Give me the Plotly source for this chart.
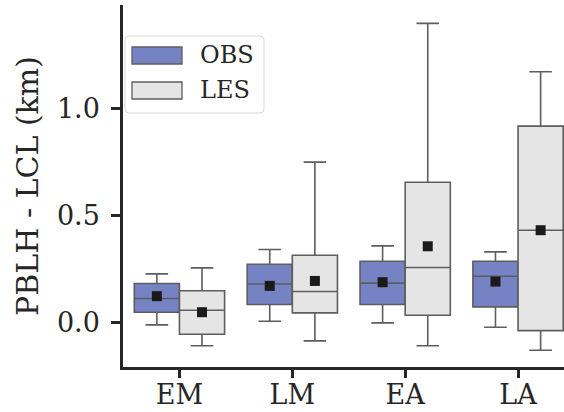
import plotly.graph_objects as go

categories = ["EM", "LM", "EA", "LA"]
series = ["OBS", "LES"]

# per-category statistics (km)
obs_q1 = [0.050, 0.086, 0.086, 0.075]
obs_median = [0.114, 0.182, 0.186, 0.218]
obs_q3 = [0.184, 0.274, 0.288, 0.288]
obs_low = [-0.009, 0.008, 0.000, -0.020]
obs_high = [0.229, 0.343, 0.360, 0.332]
obs_mean = [0.125, 0.173, 0.190, 0.193]

les_q1 = [-0.053, 0.047, 0.036, -0.036]
les_median = [0.059, 0.147, 0.259, 0.433]
les_q3 = [0.150, 0.316, 0.657, 0.919]
les_low = [-0.107, -0.084, -0.107, -0.128]
les_high = [0.257, 0.751, 1.399, 1.173]
les_mean = [0.050, 0.196, 0.358, 0.433]

y_ticks = [0.0, 0.5, 1.0]

FONT = "DejaVu Serif"
OBS_COLOR = "#7582c4"
LES_COLOR = "#e5e5e5"
EDGE = "#5e5e5e"
AXIS = "#262626"
BOX_W = 0.4
offsets = {"OBS": -0.2, "LES": 0.2}

fig = go.Figure()

stats = {
    "OBS": (obs_q1, obs_median, obs_q3, obs_low, obs_high, obs_mean, OBS_COLOR),
    "LES": (les_q1, les_median, les_q3, les_low, les_high, les_mean, LES_COLOR),
}

for name in series:
    q1, med, q3, lo, hi, mn, col = stats[name]
    xs = [i + offsets[name] for i in range(len(categories))]
    fig.add_trace(go.Box(
        x=xs, q1=q1, median=med, q3=q3, lowerfence=lo, upperfence=hi,
        name=name, width=BOX_W, whiskerwidth=0.5,
        fillcolor=col, line=dict(color=EDGE, width=1.6),
        boxpoints=False, showlegend=False, hoverinfo="skip",
    ))
    fig.add_trace(go.Scatter(
        x=xs, y=mn, mode="markers",
        marker=dict(symbol="square", size=10, color="#1a1a1a", line=dict(width=0)),
        showlegend=False, hoverinfo="skip",
    ))

# plot area geometry in pixels (for manual legend)
L, R, T, B = 123, 564, 5, 367
W, H = R - L, B - T

def px(x):
    return (x - L) / W

def py(y):
    return (B - y) / H

shapes = []
# legend frame with rounded corners
x0, x1, y0, y1, r = 125, 264, 36, 113, 4
path = (
    f"M {px(x0 + r)},{py(y0)} L {px(x1 - r)},{py(y0)} "
    f"Q {px(x1)},{py(y0)} {px(x1)},{py(y0 + r)} L {px(x1)},{py(y1 - r)} "
    f"Q {px(x1)},{py(y1)} {px(x1 - r)},{py(y1)} L {px(x0 + r)},{py(y1)} "
    f"Q {px(x0)},{py(y1)} {px(x0)},{py(y1 - r)} L {px(x0)},{py(y0 + r)} "
    f"Q {px(x0)},{py(y0)} {px(x0 + r)},{py(y0)} Z"
)
shapes.append(dict(type="path", path=path, xref="paper", yref="paper",
                   line=dict(color="#d9d9d9", width=1), fillcolor="rgba(255,255,255,0.8)"))
annotations = []
for k, name in enumerate(series):
    col = stats[name][6]
    top = 47 + k * 35
    shapes.append(dict(type="rect", xref="paper", yref="paper",
                       x0=px(132), x1=px(182), y0=py(top), y1=py(top + 17),
                       fillcolor=col, line=dict(color=EDGE, width=1.3)))
    annotations.append(dict(text=name, xref="paper", yref="paper",
                            x=px(198), y=py(top + 8.5), xanchor="left", yanchor="middle",
                            showarrow=False, font=dict(family=FONT, size=24, color="#262626")))

fig.update_layout(
    width=564, height=412,
    margin=dict(l=L, r=0, t=T, b=412 - B, autoexpand=False),
    plot_bgcolor="white", paper_bgcolor="white",
    font=dict(family=FONT, color=AXIS),
    shapes=shapes, annotations=annotations,
    showlegend=False,
    xaxis=dict(
        range=[-0.5, (R - 179) / 113.0], tickvals=list(range(len(categories))),
        ticktext=categories, showgrid=False, zeroline=False, automargin=False,
        showline=True, linecolor=AXIS, linewidth=2.5,
        ticks="outside", ticklen=8, tickwidth=2.5, tickcolor=AXIS,
        ticklabelstandoff=-6,
        tickfont=dict(family=FONT, size=27, color=AXIS),
    ),
    yaxis=dict(
        range=[-0.206, 1.485], tickvals=y_ticks, ticktext=[f"{v:.1f}" for v in y_ticks],
        showgrid=False, zeroline=False, automargin=False,
        showline=True, linecolor=AXIS, linewidth=2.5,
        ticks="outside", ticklen=9, tickwidth=2.5, tickcolor=AXIS,
        ticklabelstandoff=6,
        tickfont=dict(family=FONT, size=27, color=AXIS),
        title=dict(text="PBLH - LCL (km)", font=dict(family=FONT, size=30, color=AXIS), standoff=10),
    ),
)

fig.write_html("out.html", config={"displayModeBar": False},
               post_script="document.body.style.margin='0';")
